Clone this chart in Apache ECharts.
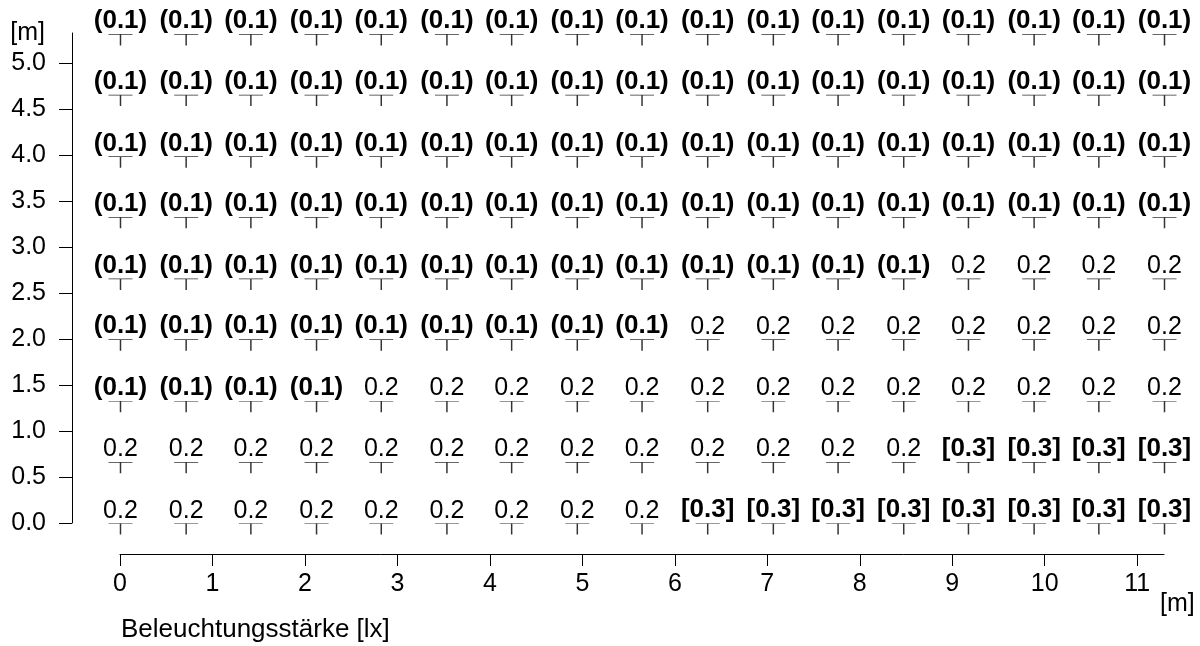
<!DOCTYPE html>
<html>
<head>
<meta charset="utf-8">
<script src="https://cdn.jsdelivr.net/npm/echarts@6/dist/echarts.min.js"></script>
<style>
  html, body { margin: 0; padding: 0; background: #fff; }
  #chart { width: 1200px; height: 646px; }
</style>
</head>
<body>
<div id="chart"></div>
<script>
// Messpunkte: x- und y-Positionen in m
const colX = [0, 0.71, 1.41, 2.12, 2.82, 3.53, 4.23, 4.94, 5.64, 6.35, 7.06, 7.76, 8.47, 9.17, 9.88, 10.58, 11.29]
const rowY = [0, 0.665, 1.33, 2.0, 2.66, 3.33, 3.99, 4.66, 5.32]

// Beleuchtungsstärke je Zeile (von unten nach oben)
const row0 = [0.2, 0.2, 0.2, 0.2, 0.2, 0.2, 0.2, 0.2, 0.2, 0.3, 0.3, 0.3, 0.3, 0.3, 0.3, 0.3, 0.3]
const row1 = [0.2, 0.2, 0.2, 0.2, 0.2, 0.2, 0.2, 0.2, 0.2, 0.2, 0.2, 0.2, 0.2, 0.3, 0.3, 0.3, 0.3]
const row2 = [0.1, 0.1, 0.1, 0.1, 0.2, 0.2, 0.2, 0.2, 0.2, 0.2, 0.2, 0.2, 0.2, 0.2, 0.2, 0.2, 0.2]
const row3 = [0.1, 0.1, 0.1, 0.1, 0.1, 0.1, 0.1, 0.1, 0.1, 0.2, 0.2, 0.2, 0.2, 0.2, 0.2, 0.2, 0.2]
const row4 = [0.1, 0.1, 0.1, 0.1, 0.1, 0.1, 0.1, 0.1, 0.1, 0.1, 0.1, 0.1, 0.1, 0.2, 0.2, 0.2, 0.2]
const row5 = [0.1, 0.1, 0.1, 0.1, 0.1, 0.1, 0.1, 0.1, 0.1, 0.1, 0.1, 0.1, 0.1, 0.1, 0.1, 0.1, 0.1]
const row6 = [0.1, 0.1, 0.1, 0.1, 0.1, 0.1, 0.1, 0.1, 0.1, 0.1, 0.1, 0.1, 0.1, 0.1, 0.1, 0.1, 0.1]
const row7 = [0.1, 0.1, 0.1, 0.1, 0.1, 0.1, 0.1, 0.1, 0.1, 0.1, 0.1, 0.1, 0.1, 0.1, 0.1, 0.1, 0.1]
const row8 = [0.1, 0.1, 0.1, 0.1, 0.1, 0.1, 0.1, 0.1, 0.1, 0.1, 0.1, 0.1, 0.1, 0.1, 0.1, 0.1, 0.1]
const rows = [row0, row1, row2, row3, row4, row5, row6, row7, row8]

// Achsenbeschriftung
const yTicks = [0, 0.5, 1.0, 1.5, 2.0, 2.5, 3.0, 3.5, 4.0, 4.5, 5.0]
const xTicks = [0, 1, 2, 3, 4, 5, 6, 7, 8, 9, 10, 11]

const font = '"Liberation Sans", Arial, sans-serif'

const points = []
rows.forEach((vals, r) => {
  vals.forEach((v, c) => {
    points.push([colX[c], rowY[r], v])
  })
})

// (x) = unter Minimum, [x] = über Maximum
const fmtValue = (v) => {
  if (v <= 0.1) return '{b|(' + v.toFixed(1) + ')}'
  if (v >= 0.3) return '{b|[' + v.toFixed(1) + ']}'
  return '{n|' + v.toFixed(1) + '}'
}

const options = {
  animation: false,
  textStyle: { fontFamily: font },
  title: {
    text: 'Beleuchtungsstärke [lx]',
    left: 121,
    top: 617,
    padding: 0,
    textStyle: { fontFamily: font, fontSize: 26, fontWeight: 'normal', color: '#000' },
  },
  grid: {
    left: 120,
    right: 36,
    top: 33,
    bottom: 123,
    containLabel: false,
    outerBoundsMode: 'none',
  },
  xAxis: {
    type: 'value',
    min: 0,
    max: 11.29,
    position: 'bottom',
    offset: 31,
    name: '[m]',
    nameLocation: 'end',
    nameGap: -4,
    nameTextStyle: {
      fontFamily: font,
      fontSize: 25,
      color: '#000',
      align: 'left',
      verticalAlign: 'top',
      padding: [38, 0, 0, 0],
    },
    axisLine: { show: true, onZero: false, lineStyle: { color: '#000', width: 1 } },
    axisTick: { show: true, length: 12, customValues: xTicks, lineStyle: { color: '#000' } },
    axisLabel: {
      customValues: xTicks,
      margin: 18,
      fontSize: 25,
      color: '#000',
      formatter: (v) => String(Math.round(v)),
    },
    splitLine: { show: false },
  },
  yAxis: {
    type: 'value',
    min: 0,
    max: 5.33,
    position: 'left',
    offset: 48,
    name: '[m]',
    nameLocation: 'end',
    nameGap: 0,
    nameTextStyle: {
      fontFamily: font,
      fontSize: 25,
      color: '#000',
      align: 'right',
      verticalAlign: 'middle',
      padding: [0, 27, 0, 0],
    },
    axisLine: { show: true, onZero: false, lineStyle: { color: '#000', width: 1 } },
    axisTick: { show: true, length: 13, customValues: yTicks, lineStyle: { color: '#000' } },
    axisLabel: {
      customValues: yTicks,
      margin: 26,
      fontSize: 25,
      color: '#000',
      formatter: (v) => v.toFixed(1),
    },
    splitLine: { show: false },
  },
  series: [
    {
      type: 'scatter',
      silent: true,
      data: points,
      symbol: 'path://M0,0L24,0M12,0L12,11',
      symbolSize: [24, 11],
      symbolOffset: [0.5, 6],
      itemStyle: {
        color: 'transparent',
        borderColor: '#333',
        borderWidth: 1,
        opacity: 1,
      },
      label: {
        show: true,
        position: 'top',
        distance: 0,
        color: '#000',
        opacity: 1,
        formatter: (p) => fmtValue(p.value[2]),
        rich: {
          b: { fontFamily: font, fontSize: 26, fontWeight: 'bold', color: '#000' },
          n: { fontFamily: font, fontSize: 25, color: '#000' },
        },
      },
      emphasis: { disabled: true },
    },
  ],
}

const chart = echarts.init(document.getElementById('chart'))
chart.setOption(options)
window.addEventListener('resize', function () {
  chart && chart.resize()
})
</script>
</body>
</html>
